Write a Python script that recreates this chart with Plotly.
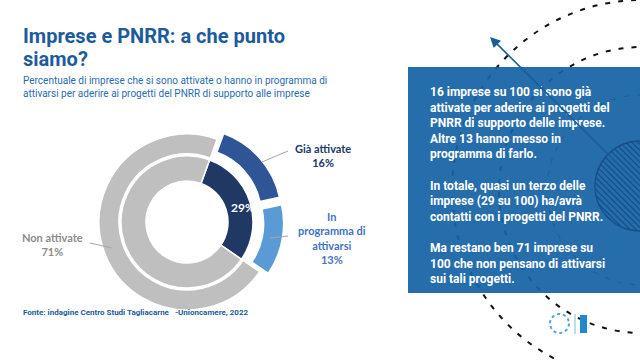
import numpy as np
import plotly.graph_objects as go

# ---------------- data ----------------
outer_labels = ["Già attivate", "In programma di attivarsi", "Non attivate"]
outer_values = [16, 13, 71]
outer_colors = ["#2F5597", "#5B9BD5", "#BFBFBF"]
outer_pull = [0.1, 0.1, 0]

inner_labels = ["Attivate o in programma", "Non attivate"]
inner_values = [29, 71]
inner_colors = ["#1F3864", "#BFBFBF"]

title_lines = ["Imprese e PNRR: a che punto", "siamo?"]
subtitle = ("Percentuale di imprese che si sono attivate o hanno in programma di<br>"
            "attivarsi per aderire ai progetti del PNRR di supporto alle imprese")
box_text = ("16 imprese su 100 si sono già<br>attivate per aderire ai progetti del<br>"
            "PNRR di supporto delle imprese.<br>Altre 13 hanno messo in<br>programma di farlo.<br><br>"
            "In totale, quasi un terzo delle<br>imprese (29 su 100) ha/avrà<br>"
            "contatti con i progetti del PNRR.<br><br>"
            "Ma restano ben 71 imprese su<br>100 che non pensano di attivarsi<br>sui tali progetti.")
source = "Fonte: indagine Centro Studi Tagliacarne \u00a0\u00a0-Unioncamere, 2022"

W, H = 640, 360
BLUE = "#1C5C9C"

# pie geometry (pixels)
cx, cy = 187, 222
r_out, r_out_in = 88, 68
r_in, r_in_in = 66, 41
maxpull = max(outer_pull)
half_out = r_out * (1 + maxpull)

def dom(half):
    return dict(x=[(cx - half) / W, (cx + half) / W],
                y=[1 - (cy + half) / H, 1 - (cy - half) / H])

fig = go.Figure()

fig.add_trace(go.Pie(
    labels=outer_labels, values=outer_values, pull=outer_pull,
    marker=dict(colors=outer_colors, line=dict(color="white", width=1.5)),
    hole=r_out_in / r_out, sort=False, direction="clockwise", rotation=20,
    textinfo="none", hoverinfo="skip", domain=dom(half_out), showlegend=False))

fig.add_trace(go.Pie(
    labels=inner_labels, values=inner_values,
    marker=dict(colors=inner_colors, line=dict(color="white", width=1.5)),
    hole=r_in_in / r_in, sort=False, direction="clockwise", rotation=20,
    textinfo="none", hoverinfo="skip", domain=dom(r_in), showlegend=False))

shapes = []
# decorative dashed circles
ccx, ccy = 642, 190
for R, col, w in [(190, "#111111", 2), (143, "#111111", 2), (95, "rgba(0,0,0,0.6)", 1.5)]:
    shapes.append(dict(type="circle", xref="x", yref="y", x0=ccx - R, x1=ccx + R,
                       y0=ccy - R, y1=ccy + R, line=dict(color=col, width=w, dash="5px,8px"),
                       layer="below"))
# blue box
shapes.append(dict(type="rect", xref="x", yref="y", x0=408, x1=642, y0=67, y1=293,
                   fillcolor="rgba(22,98,166,0.93)", line=dict(width=0), layer="below"))
# hatched circle
hx, hy, hr = 640, 186, 45
shapes.append(dict(type="circle", xref="x", yref="y", x0=hx - hr, x1=hx + hr, y0=hy - hr, y1=hy + hr,
                   line=dict(color="#174F8A", width=1.3), layer="above"))
for s in np.arange(-hr + 3, hr - 1, 4.2):
    half = np.sqrt(hr ** 2 - s ** 2)
    mx, my = hx + s / np.sqrt(2), hy - s / np.sqrt(2)
    ux, uy = 1 / np.sqrt(2), 1 / np.sqrt(2)
    shapes.append(dict(type="line", xref="x", yref="y", x0=mx - ux * half, y0=my - uy * half,
                       x1=mx + ux * half, y1=my + uy * half,
                       line=dict(color="#174F8A", width=1.2)))
# leader lines
for (x0, y0, x1, y1, c) in [(262, 162, 288, 151, "#A6A6A6"), (270, 238, 288, 236, "#A6A6A6"),
                            (90, 243, 112, 248, "#A6A6A6")]:
    shapes.append(dict(type="line", xref="x", yref="y", x0=x0, y0=y0, x1=x1, y1=y1,
                       line=dict(color=c, width=1)))
# logos (simplified)
shapes.append(dict(type="circle", xref="x", yref="y", x0=550, x1=569, y0=314, y1=333,
                   line=dict(color="#4FA3E0", width=2, dash="dot")))
shapes.append(dict(type="line", xref="x", yref="y", x0=575, x1=575, y0=314, y1=334,
                   line=dict(color="#7FB8E6", width=1)))
shapes.append(dict(type="rect", xref="x", yref="y", x0=580, x1=587, y0=315, y1=333,
                   fillcolor="#1E88D0", line=dict(width=0)))

annotations = []
def ann(x, y, text, size, color, bold=False, xanchor="left", yanchor="middle", align="left",
        family="Roboto"):
    annotations.append(dict(x=x, y=y, xref="x", yref="y", text=f"<b>{text}</b>" if bold else text,
                            showarrow=False, xanchor=xanchor, yanchor=yanchor, align=align,
                            font=dict(size=size, color=color, family=family)))

ann(21, 36, title_lines[0], 20, BLUE, bold=True)
ann(21, 59, title_lines[1], 20, BLUE, bold=True)
ann(21, 87, subtitle, 10, "#2A6CB0")
ann(21, 312, source, 8, BLUE, bold=True)
ann(428, 83, box_text, 12, "white", bold=True, yanchor="top")

ann(323, 155, "Già attivate<br>16%", 11, "#203864", bold=True, xanchor="center", align="center",
    family="Lato")
ann(332, 238, "In<br>programma di<br>attivarsi<br>13%", 11, "#4472C4", bold=True,
    xanchor="center", align="center", family="Lato")
ann(52, 244, "Non attivate<br>71%", 11, "#8C8C8C", bold=True, xanchor="center", align="center",
    family="Lato")
ann(243, 207, "29%", 12, "white", bold=True, xanchor="center", align="center", family="Lato")

# arrow from hatched circle
annotations.append(dict(x=490, y=37, ax=hx, ay=hy, xref="x", yref="y", axref="x", ayref="y",
                        text="", showarrow=True, arrowhead=2, arrowsize=1.3, arrowwidth=1.6,
                        arrowcolor="#1B5C9A"))

fig.update_layout(
    width=W, height=H, margin=dict(l=0, r=0, t=0, b=0),
    paper_bgcolor="white", plot_bgcolor="white",
    xaxis=dict(range=[0, W], visible=False, fixedrange=True, domain=[0, 1]),
    yaxis=dict(range=[H, 0], visible=False, fixedrange=True, domain=[0, 1]),
    shapes=shapes, annotations=annotations, showlegend=False, hovermode=False)

fig.write_html("out.html", config={"displayModeBar": False},
               post_script="document.body.style.margin='0';document.body.style.overflow='hidden';")
